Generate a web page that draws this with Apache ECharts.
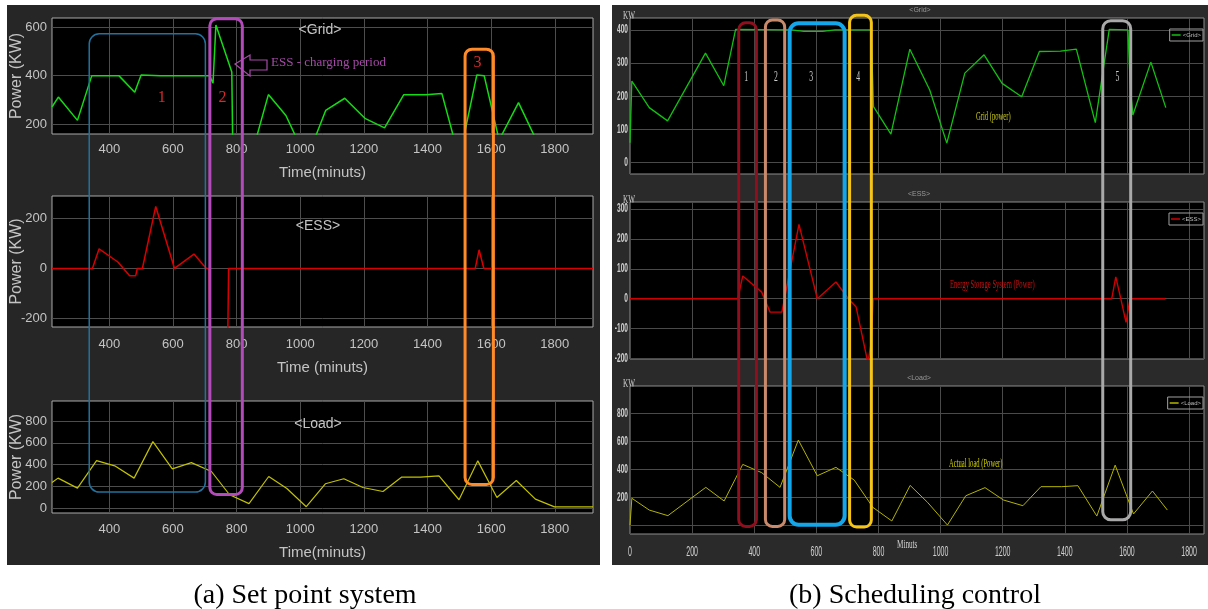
<!DOCTYPE html>
<html>
<head>
<meta charset="utf-8">
<script src="https://cdn.jsdelivr.net/npm/echarts@6.0.0/dist/echarts.min.js"></script>
<style>
html,body{margin:0;padding:0;background:#fff;}
#chart{width:1208px;height:609px;}
</style>
</head>
<body>
<div id="chart"></div>
<script>
// ===== (a) Set point system : [time (min), power (kW)] =====
const aGrid = [[220,271],[240,312],[300,216],[345,400],[430,400],[480,332],[500,403],[560,400],[715,400],[726,369],[735,608],[785,415],[788,100],[840,40],[900,322],[955,236],[1020,55],[1080,257],[1140,307],[1205,223],[1265,185],[1325,321],[1395,321],[1445,327],[1500,60],[1555,403],[1578,400],[1625,135],[1686,289],[1740,140]];
const aEss = [[220,0],[347,0],[368,79],[427,26],[464,-29],[483,-29],[488,0],[504,0],[546,249],[605,0],[666,58],[705,0],[713,0],[716,-300],[772,-300],[775,0],[1550,0],[1562,75],[1577,0],[1920,0]];
const aLoad = [[220,235],[239,275],[300,183],[360,436],[417,388],[478,275],[537,611],[598,360],[658,418],[721,336],[778,122],[839,40],[901,290],[958,180],[1019,12],[1079,223],[1137,269],[1197,189],[1260,152],[1318,284],[1378,284],[1436,296],[1499,76],[1558,434],[1618,97],[1679,253],[1739,82],[1799,10],[1920,10]];

// ===== (b) Scheduling control : [time (min), power (kW)] =====
const bGrid = [[0,60],[6,246],[62,166],[121,126],[243,330],[302,232],[340,402],[520,400],[560,396],[620,396],[660,400],[776,400],[784,169],[840,86],[901,342],[965,219],[1020,59],[1078,270],[1140,325],[1198,239],[1261,199],[1318,335],[1386,336],[1437,342],[1498,121],[1543,402],[1603,400],[1611,224],[1619,144],[1677,303],[1725,166]];
const bEss = [[0,0],[347,0],[363,76],[424,22],[451,-45],[489,-45],[544,249],[603,0],[663,56],[703,0],[728,-28],[766,-215],[776,-150],[783,0],[1551,0],[1564,73],[1580,0],[1597,-79],[1610,0],[1723,0]];
const bLoad = [[0,2],[6,193],[62,109],[122,69],[244,271],[303,174],[363,435],[424,376],[483,271],[542,609],[603,354],[663,414],[722,323],[782,128],[843,31],[902,285],[958,164],[1022,2],[1081,211],[1143,269],[1202,181],[1265,140],[1323,276],[1390,276],[1442,283],[1503,66],[1562,430],[1621,81],[1682,245],[1730,109]];

// ===== tick labels =====
const aTimeTicks = [400,600,800,1000,1200,1400,1600,1800];
const aGridTicks = [200,400,600];
const aEssTicks = [-200,0,200];
const aLoadTicks = [0,200,400,600,800];
const bTimeTicks = [0,200,400,600,800,1000,1200,1400,1600,1800];
const bGridTicks = [0,100,200,300,400];
const bEssTicks = [-200,-100,0,100,200,300];
const bLoadTicks = [0,200,400,600,800];
const bLoadLabels = [200,400,600,800];

// ===== highlighted periods (annotation boxes, in data units) =====
const aBoxes = [
  {x0:337, x1:702, top:572, bot:147, color:'#22729f', w:1.5, r:10},
  {x0:716, x1:818, top:634, bot:124, color:'#b44bbb', w:3, r:7},
  {x0:1518, x1:1607, top:509, bot:216, color:'#ff8a2a', w:3, r:7}
];
const bBoxes = [
  {x0:350, x1:407, top:422, bot:-8, color:'#8e0f1e', w:3, r:7},
  {x0:436, x1:498, top:430, bot:-8, color:'#c98a6c', w:3, r:7},
  {x0:514, x1:691, top:420, bot:4, color:'#14a6ea', w:4, r:9},
  {x0:707, x1:777, top:444, bot:-12, color:'#f4c419', w:3, r:7},
  {x0:1522, x1:1612, top:428, bot:40, color:'#a9a9a9', w:3, r:8}
];
const aMarks = [{t:'1', x:565, y:310},{t:'2', x:756, y:310},{t:'3', x:1557, y:453}];
const bMarks = [{t:'1', x:374, y:258},{t:'2', x:470, y:258},{t:'3', x:583, y:258},{t:'4', x:735, y:258},{t:'5', x:1569, y:258}];

const chart = echarts.init(document.getElementById('chart'));
const LT = '#c4c4c4';
const aFont = '"Liberation Sans", Arial, sans-serif';
const sFont = '"Liberation Serif", "Times New Roman", serif';

const grids = [
  {left:52, top:18, width:541, height:116},
  {left:52, top:196, width:541, height:131},
  {left:52, top:401, width:541, height:112},
  {left:630, top:18, width:574, height:156},
  {left:630, top:202, width:574, height:157},
  {left:630, top:386, width:574, height:148}
].map((g,i) => Object.assign(g, {show:true, backgroundColor:'#000', borderColor: i<3 ? '#a8a8a8' : '#8c8c8c', borderWidth:1}));

const plain = v => String(v);
function aX(i, name, margin, gap){
  return {type:'value', gridIndex:i, min:220, max:1920,
    axisLine:{show:false}, axisTick:{show:false, customValues:aTimeTicks},
    axisLabel:{customValues:aTimeTicks, formatter:plain, color:LT, fontSize:13, fontFamily:aFont, margin:margin},
    splitLine:{show:true, lineStyle:{color:'#4d4d4d', width:1}},
    name:name, nameLocation:'middle', nameGap:gap, nameMoveOverlap:false,
    nameTextStyle:{color:LT, fontSize:15, fontFamily:aFont}};
}
function aY(i, min, max, ticks){
  return {type:'value', gridIndex:i, min:min, max:max,
    axisLine:{show:false}, axisTick:{show:false, customValues:ticks},
    axisLabel:{customValues:ticks, formatter:plain, color:LT, fontSize:13, fontFamily:aFont, margin:5},
    splitLine:{show:true, lineStyle:{color:'#4d4d4d', width:1}},
    name:'Power (KW)', nameLocation:'middle', nameGap:27, nameMoveOverlap:false,
    nameTextStyle:{color:LT, fontSize:16, fontFamily:aFont}};
}
function bX(i){
  return {type:'value', gridIndex:i, min:0, max:1848,
    axisLine:{show:false}, axisTick:{show:false, customValues:bTimeTicks},
    axisLabel:{show:false, customValues:bTimeTicks},
    splitLine:{show:true, lineStyle:{color:'#4a4a4a', width:1}}};
}
function bY(i, min, max, ticks){
  return {type:'value', gridIndex:i, min:min, max:max,
    axisLine:{show:false}, axisTick:{show:false, customValues:ticks},
    axisLabel:{show:false, customValues:ticks},
    splitLine:{show:true, lineStyle:{color:'#4a4a4a', width:1}}};
}
function line(name, i, data, color, width){
  return {name:name, type:'line', xAxisIndex:i, yAxisIndex:i, data:data, showSymbol:false, symbol:'none',
    lineStyle:{color:color, width:width}, itemStyle:{color:color}, emphasis:{disabled:true}, silent:true, z:3};
}
function legendAt(name, top){
  return {data:[name], right:5, top:top, orient:'horizontal', icon:'rect', itemWidth:9, itemHeight:1.5, itemGap:0,
    padding:[3,2,3,2], borderColor:'#a0a0a0', borderWidth:1, selectedMode:false,
    textStyle:{color:'#bbbbbb', fontSize:6, fontFamily:aFont, padding:[0,0,0,-3]}};
}

const option = {
  backgroundColor:'#ffffff',
  animation:false,
  grid: grids,
  xAxis: [aX(0,'Time(minuts)',9,31), aX(1,'Time (minuts)',11,33), aX(2,'Time(minuts)',10,32), bX(3), bX(4), bX(5)],
  yAxis: [aY(0,160,637,aGridTicks), aY(1,-235,291,aEssTicks), aY(2,-46,985,aLoadTicks),
          bY(3,-34,436,bGridTicks), bY(4,-202,324,bEssTicks), bY(5,-62,995,bLoadTicks)],
  legend: [legendAt('<Grid>',29), legendAt('<ESS>',213), legendAt('<Load>',397)],
  series: [
    line('Grid', 0, aGrid, '#14dc14', 1.5),
    line('ESS', 1, aEss, '#d80000', 1.5),
    line('Load', 2, aLoad, '#c2c200', 1.2),
    line('<Grid>', 3, bGrid, '#12c012', 1.3),
    line('<ESS>', 4, bEss, '#d00000', 1.4),
    line('<Load>', 5, bLoad, '#b4b400', 1)
  ]
};
chart.setOption(option);

// ===== annotations =====
const g = [];
g.push({type:'rect', z:-10, silent:true, shape:{x:7, y:5, width:593, height:560}, style:{fill:'#262626'}});
g.push({type:'rect', z:-10, silent:true, shape:{x:612, y:5, width:596, height:560}, style:{fill:'#2a2a2a'}});

function txt(x, y, text, style, extra){
  return Object.assign({type:'text', z:50, silent:true, x:x, y:y,
    style:Object.assign({text:text, fill:LT, font:'14px ' + aFont, align:'center', verticalAlign:'middle'}, style || {})}, extra || {});
}
// panel (a) titles
g.push(txt(320, 30, '<Grid>'));
g.push(txt(318, 226, '<ESS>'));
g.push(txt(318, 424, '<Load>'));
// ESS charging note with arrow
g.push(txt(271, 63, 'ESS - charging period', {fill:'#a64aa8', font:'13px ' + sFont, align:'left'}));
g.push({type:'polygon', z:60, silent:true, shape:{points:[[235,64],[250,55],[250,60],[267,60],[267,70],[250,70],[250,76]]},
  style:{fill:'none', stroke:'#a64aa8', lineWidth:1.2}});

function boxEl(b, gTop, gBot){
  const p0 = chart.convertToPixel({gridIndex:gTop}, [b.x0, b.top]);
  const p1 = chart.convertToPixel({gridIndex:gBot}, [b.x1, b.bot]);
  return {type:'rect', z:60, silent:true, shape:{x:p0[0], y:p0[1], width:p1[0]-p0[0], height:p1[1]-p0[1], r:b.r},
    style:{fill:'none', stroke:b.color, lineWidth:b.w}};
}
aBoxes.forEach(b => g.push(boxEl(b, 0, 2)));
bBoxes.forEach(b => g.push(boxEl(b, 3, 5)));
aMarks.forEach(m => { const p = chart.convertToPixel({gridIndex:0}, [m.x, m.y]);
  g.push(txt(p[0], p[1], m.t, {fill:'#d42a2a', font:'16px ' + sFont})); });
bMarks.forEach(m => { const p = chart.convertToPixel({gridIndex:3}, [m.x, m.y]);
  g.push(txt(p[0], p[1], m.t, {fill:'#cccccc', font:'14px ' + sFont}, {scaleX:0.55})); });

// panel (b) axis labels (condensed)
[[3,bGridTicks],[4,bEssTicks],[5,bLoadLabels]].forEach(o => o[1].forEach(v => {
  const p = chart.convertToPixel({gridIndex:o[0]}, [0, v]);
  g.push(txt(628, p[1], String(v), {fill:'#d0d0d0', font:'bold 12px ' + aFont, align:'right'}, {scaleX:0.55}));
}));
bTimeTicks.forEach(v => {
  const p = chart.convertToPixel({gridIndex:5}, [v, 0]);
  g.push(txt(p[0], 552, String(v), {fill:'#d0d0d0', font:'14px ' + aFont}, {scaleX:0.5}));
});
g.push(txt(897, 545, 'Minuts', {fill:'#d0d0d0', font:'12px ' + sFont, align:'left'}, {scaleX:0.6}));
[16, 200, 384].forEach(y => g.push(txt(623, y, 'KW', {fill:'#cccccc', font:'12px ' + sFont, align:'left'}, {scaleX:0.6})));
// panel (b) header titles
g.push(txt(920, 10, '<Grid>', {fill:'#9a9a9a', font:'7px ' + aFont}));
g.push(txt(919, 194, '<ESS>', {fill:'#9a9a9a', font:'7px ' + aFont}));
g.push(txt(919, 378, '<Load>', {fill:'#9a9a9a', font:'7px ' + aFont}));
// panel (b) in-plot notes
g.push(txt(976, 117, 'Grid (power)', {fill:'#c8c820', font:'12px ' + sFont, align:'left'}, {scaleX:0.55}));
g.push(txt(950, 285, 'Energy Storage System (Power)', {fill:'#c81010', font:'12px ' + sFont, align:'left'}, {scaleX:0.55}));
g.push(txt(949, 464, 'Actual load (Power)', {fill:'#d0d000', font:'12px ' + sFont, align:'left'}, {scaleX:0.55}));
// captions
g.push(txt(305, 596, '(a) Set point system', {fill:'#000', font:'28px ' + sFont}));
g.push(txt(915, 596, '(b) Scheduling control', {fill:'#000', font:'28px ' + sFont}));

chart.setOption({graphic: g});
</script>
</body>
</html>
